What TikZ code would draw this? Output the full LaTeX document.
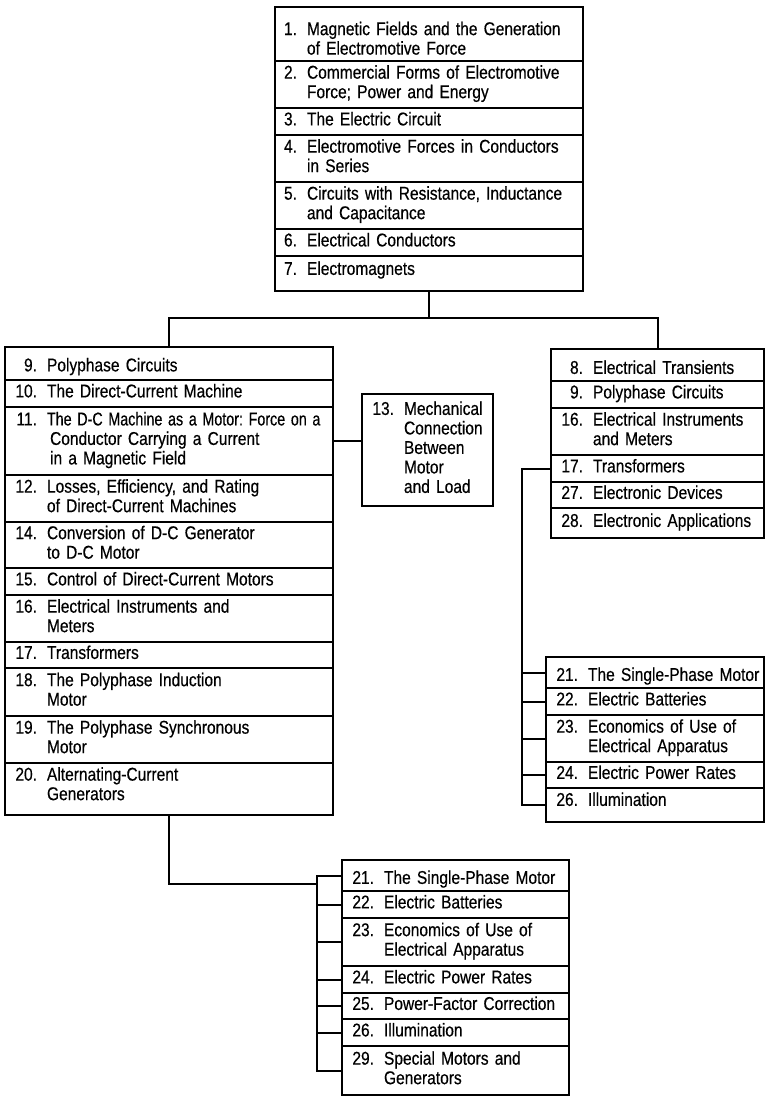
\documentclass[tikz,border=0pt]{standalone}
\usepackage{fontspec}
\usepackage{graphicx}
\setmainfont{Liberation Sans}[FakeStretch=0.84,FakeBold=0.4]
\usetikzlibrary{positioning}
\frenchspacing
\newcommand{\chap}[3][24pt]{\mbox{\makebox[#1][r]{#2}\hspace{10pt}\begin{tabular}[t]{@{}l@{}}#3\end{tabular}}}
\begin{document}
\begin{tikzpicture}[x=1pt,y=1pt,
	row/.style={draw,line width=1.1pt,inner xsep=8pt,inner ysep=0pt,outer sep=0pt,
		align=left,minimum height=27pt,font=\fontsize{18.5}{19.5}\selectfont},
	ht/.style={minimum height=#1pt},
	topbox/.style={row,text width=292pt},
	leftbox/.style={row,text width=312pt},
	midbox/.style={row,text width=115pt},
	rtbox/.style={row,text width=197pt},
	rbbox/.style={row,text width=202pt},
	botbox/.style={row,text width=211pt},
	link/.style={line width=2pt}]
\useasboundingbox (0,0) rectangle (765,-1098);
% top group
\node[topbox,ht=54,anchor=north west] (t1) at (275,-7) {\rule{0pt}{27.6pt}\chap[14pt]{1.}{Magnetic Fields and the Generation\\of Electromotive Force}};
\node[topbox,ht=47,below=0pt of t1] (t2) {\chap[14pt]{2.}{Commercial Forms of Electromotive\\Force; Power and Energy}};
\node[topbox,below=0pt of t2] (t3) {\chap[14pt]{3.}{The Electric Circuit}};
\node[topbox,ht=47,below=0pt of t3] (t4) {\chap[14pt]{4.}{Electromotive Forces in Conductors\\in Series}};
\node[topbox,ht=47,below=0pt of t4] (t5) {\chap[14pt]{5.}{Circuits with Resistance, Inductance\\and Capacitance}};
\node[topbox,below=0pt of t5] (t6) {\chap[14pt]{6.}{Electrical Conductors}};
\node[topbox,ht=35,below=0pt of t6] (t7) {\chap[14pt]{7.}{Electromagnets}\rule[-10.9pt]{0pt}{0pt}};
% left group
\node[leftbox,ht=33,anchor=north west] (l9) at (5,-347) {\rule{0pt}{21.6pt}\chap{9.}{Polyphase Circuits}};
\node[leftbox,below=0pt of l9] (l10) {\chap{10.}{The Direct-Current Machine}};
\node[leftbox,ht=68,below=0pt of l10] (l11) {\chap{11.}{\scalebox{0.92}[1]{The D-C Machine as a Motor: Force on a}\\ \,Conductor Carrying a Current\\ \,in a Magnetic Field}};
\node[leftbox,ht=47,below=0pt of l11] (l12) {\chap{12.}{Losses, Efficiency, and Rating\\ of Direct-Current Machines}};
\node[leftbox,ht=46,below=0pt of l12] (l14) {\chap{14.}{Conversion of D-C Generator\\ to D-C Motor}};
\node[leftbox,below=0pt of l14] (l15) {\chap{15.}{Control of Direct-Current Motors}};
\node[leftbox,ht=47,below=0pt of l15] (l16) {\chap{16.}{Electrical Instruments and\\ Meters}};
\node[leftbox,ht=26,below=0pt of l16] (l17) {\chap{17.}{Transformers}};
\node[leftbox,ht=48,below=0pt of l17] (l18) {\chap{18.}{The Polyphase Induction\\ Motor}};
\node[leftbox,ht=47,below=0pt of l18] (l19) {\chap{19.}{The Polyphase Synchronous\\ Motor}};
\node[leftbox,ht=52,below=0pt of l19] (l20) {\chap{20.}{Alternating-Current\\ Generators}\rule[-30.4pt]{0pt}{0pt}};
% middle
\node[midbox,ht=112,anchor=north west] (m13) at (362,-394) {\chap{13.}{Mechanical\\Connection\\Between\\Motor\\and Load}};
% right top group
\node[rtbox,ht=32,anchor=north west] (r8) at (551,-349) {\rule{0pt}{23.6pt}\chap{8.}{Electrical Transients}};
\node[rtbox,below=0pt of r8] (r9) {\chap{9.}{Polyphase Circuits}};
\node[rtbox,ht=47,below=0pt of r9] (r16) {\chap{16.}{Electrical Instruments\\ and Meters}};
\node[rtbox,below=0pt of r16] (r17) {\chap{17.}{Transformers}};
\node[rtbox,ht=26,below=0pt of r17] (r27) {\chap{27.}{Electronic Devices}};
\node[rtbox,ht=30,below=0pt of r27] (r28) {\chap{28.}{Electronic Applications}};
% right bottom group
\node[rbbox,ht=31,anchor=north west] (s21) at (546,-657) {\rule{0pt}{22.6pt}\chap{21.}{The Single-Phase Motor}};
\node[rbbox,below=0pt of s21] (s22) {\chap{22.}{Electric Batteries}};
\node[rbbox,ht=47,below=0pt of s22] (s23) {\chap{23.}{Economics of Use of\\ Electrical Apparatus}};
\node[rbbox,ht=26,below=0pt of s23] (s24) {\chap{24.}{Electric Power Rates}};
\node[rbbox,ht=34,below=0pt of s24] (s26) {\chap{26.}{Illumination}\rule[-11.9pt]{0pt}{0pt}};
% bottom group
\node[botbox,ht=31,anchor=north west] (b21) at (342,-860) {\rule{0pt}{22.6pt}\chap{21.}{The Single-Phase Motor}};
\node[botbox,below=0pt of b21] (b22) {\chap{22.}{Electric Batteries}};
\node[botbox,ht=48,below=0pt of b22] (b23) {\chap{23.}{Economics of Use of\\ Electrical Apparatus}};
\node[botbox,below=0pt of b23] (b24) {\chap{24.}{Electric Power Rates}};
\node[botbox,ht=26,below=0pt of b24] (b25) {\chap{25.}{Power-Factor Correction}};
\node[botbox,below=0pt of b25] (b26) {\chap{26.}{Illumination}};
\node[botbox,ht=49,below=0pt of b26] (b29) {\chap{29.}{Special Motors and\\ Generators}};
% connectors
\coordinate (hub) at ([yshift=-27pt]t7.south);
\draw[link] (t7.south) -- (hub);
\draw[link] (l9.north) |- (hub) -| (r8.north);
\draw[link] (l11.east) -- (l11.east -| m13.west);
\coordinate (rb) at ([xshift=-29pt]r17.west);
\draw[link] (r17.west) -- (rb) -- (rb |- s26.west) -- (s26.west);
\foreach \n in {21,22,23,24}
	\draw[link] (rb |- s\n.west) -- (s\n.west);
\coordinate (bb) at ([xshift=-25pt]b21.west);
\draw[link] (l20.south) |- ([yshift=-8pt]bb);
\draw[link] (b21.west) -- (bb) -- (bb |- b29.west) -- (b29.west);
\foreach \n in {22,...,26}
	\draw[link] (bb |- b\n.west) -- (b\n.west);
\end{tikzpicture}
\end{document}
